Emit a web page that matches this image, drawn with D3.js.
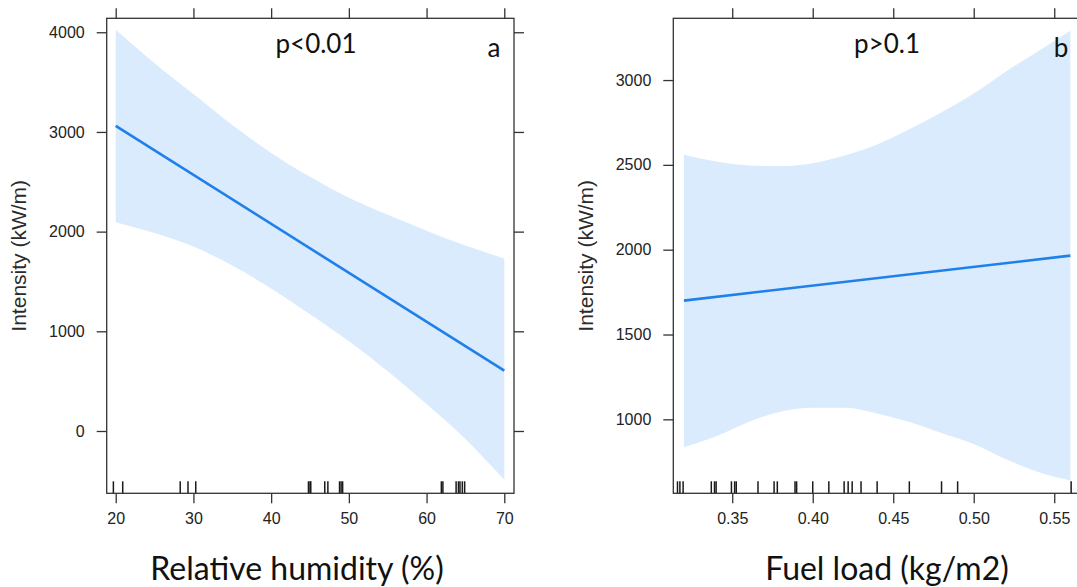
<!DOCTYPE html>
<html>
<head>
<meta charset="utf-8">
<script src="https://cdn.jsdelivr.net/npm/d3@7"></script>
<style>
	body { margin: 0; background: #fff; }
	svg { display: block; }
	.tick text { font-family: "Liberation Sans", Arial, sans-serif; font-size: 16px; fill: #222; }
	.tick line { stroke: #333; stroke-width: 1.3; }
</style>
</head>
<body>
<div id="chart"></div>
<script>

// panel a: relative humidity
var humX = [20, 25, 30, 35, 40, 45, 50, 55, 60, 65, 70];
var humUpper = [4025, 3690, 3380, 3070, 2790, 2550, 2340, 2170, 2010, 1860, 1730];
var humLower = [2095, 1985, 1850, 1660, 1430, 1170, 900, 600, 270, -80, -490];
var humFitX = [20, 70];
var humFit = [3060, 605];
var humRug = [19.7, 20.9, 28.3, 29.3, 30.3, 44.8, 45.0, 45.1, 46.9, 47.3, 48.8, 49.0, 49.2,
	61.9, 62.1, 63.8, 64.1, 64.3, 64.6, 64.9];
var humTicksX = [20, 30, 40, 50, 60, 70];
var humTicksY = [0, 1000, 2000, 3000, 4000];

// panel b: fuel load
var fuelX = [0.32, 0.34, 0.36, 0.38, 0.40, 0.42, 0.44, 0.46, 0.48, 0.50, 0.52, 0.54, 0.56];
var fuelUpper = [2560, 2520, 2497, 2493, 2510, 2555, 2620, 2710, 2810, 2920, 3050, 3170, 3290];
var fuelLower = [835, 900, 985, 1045, 1068, 1068, 1035, 985, 920, 855, 765, 690, 640];
var fuelFitX = [0.32, 0.56];
var fuelFit = [1700, 1965];
var fuelRug = [0.316, 0.3175, 0.3195, 0.337, 0.339, 0.340, 0.3495, 0.3515, 0.3525, 0.366, 0.376, 0.378,
	0.389, 0.390, 0.400, 0.410, 0.4195, 0.422, 0.4245, 0.430, 0.440, 0.460, 0.480, 0.490, 0.5605];
var fuelTicksX = [0.35, 0.40, 0.45, 0.50, 0.55];
var fuelTicksY = [1000, 1500, 2000, 2500, 3000];

var width = 1077,
	height = 587;

var svg = d3.select('#chart').append('svg')
	.attr('width', width)
	.attr('height', height)
	.style('background', '#fff');

function drawPanel(opt) {
	var x = d3.scaleLinear().domain(opt.xDomain).range([opt.left, opt.right]);
	var y = d3.scaleLinear().domain(opt.yDomain).range([opt.bottom, opt.top]);

	var g = svg.append('g');

	// confidence band
	var band = opt.xs.map(function (d, i) {
		return { x: d, lo: opt.lower[i], hi: opt.upper[i] };
	});
	g.append('path')
		.datum(band)
		.attr('fill', '#d9ebfd')
		.attr('d', d3.area()
			.curve(d3.curveMonotoneX)
			.x(function (d) { return x(d.x); })
			.y0(function (d) { return y(d.lo); })
			.y1(function (d) { return y(d.hi); }));

	// fitted line
	var fit = opt.fitX.map(function (d, i) { return { x: d, y: opt.fit[i] }; });
	g.append('path')
		.datum(fit)
		.attr('fill', 'none')
		.attr('stroke', '#1f80ea')
		.attr('stroke-width', 2.6)
		.attr('d', d3.line()
			.x(function (d) { return x(d.x); })
			.y(function (d) { return y(d.y); }));

	// rug
	g.selectAll('line.rug').data(opt.rug)
		.enter().append('line')
		.attr('class', 'rug')
		.attr('x1', function (d) { return x(d); })
		.attr('x2', function (d) { return x(d); })
		.attr('y1', opt.bottom)
		.attr('y2', opt.bottom - 12)
		.attr('stroke', '#1a1a1a')
		.attr('stroke-width', 1.5);

	// axes, ticks on all four sides, labels left/bottom
	g.append('g')
		.attr('transform', 'translate(0,' + opt.bottom + ')')
		.call(d3.axisBottom(x).tickValues(opt.ticksX).tickSize(10).tickPadding(9)
			.tickFormat(opt.xFormat))
		.call(function (a) { a.select('.domain').remove(); });
	g.append('g')
		.attr('transform', 'translate(0,' + opt.top + ')')
		.call(d3.axisTop(x).tickValues(opt.ticksX).tickSize(10).tickFormat(''))
		.call(function (a) { a.select('.domain').remove(); });
	g.append('g')
		.attr('transform', 'translate(' + opt.left + ',0)')
		.call(d3.axisLeft(y).tickValues(opt.ticksY).tickSize(10).tickPadding(12)
			.tickFormat(d3.format('d')))
		.call(function (a) { a.select('.domain').remove(); });
	g.append('g')
		.attr('transform', 'translate(' + opt.right + ',0)')
		.call(d3.axisRight(y).tickValues(opt.ticksY).tickSize(10).tickFormat(''))
		.call(function (a) { a.select('.domain').remove(); });

	// frame
	g.append('rect')
		.attr('x', opt.left)
		.attr('y', opt.top)
		.attr('width', opt.right - opt.left)
		.attr('height', opt.bottom - opt.top)
		.attr('fill', 'none')
		.attr('stroke', '#333')
		.attr('stroke-width', 1.3);

	// y title
	g.append('text')
		.attr('transform', 'translate(' + opt.yTitleX + ',' + ((opt.top + opt.bottom) / 2) + ') rotate(-90)')
		.attr('text-anchor', 'middle')
		.style('font-family', '"Liberation Sans", Arial, sans-serif')
		.style('font-size', '21px')
		.style('fill', '#2b2b2b')
		.text('Intensity (kW/m)');

	// x title
	g.append('text')
		.attr('x', opt.xTitleX)
		.attr('y', 580)
		.attr('text-anchor', 'middle')
		.style('font-family', 'Lato, "Open Sans", sans-serif')
		.style('font-size', '32px')
		.style('fill', '#111')
		.text(opt.xTitle);

	// p value and panel letter
	g.append('text')
		.attr('x', opt.pX)
		.attr('y', 53)
		.attr('text-anchor', 'middle')
		.style('font-family', 'Lato, "Open Sans", sans-serif')
		.style('font-size', '26px')
		.style('fill', '#111')
		.text(opt.pText);
	g.append('text')
		.attr('x', opt.letterX)
		.attr('y', 57)
		.attr('text-anchor', 'middle')
		.style('font-family', 'Lato, "Open Sans", sans-serif')
		.style('font-size', '26px')
		.style('fill', '#111')
		.text(opt.letter);
}

drawPanel({
	left: 106.7, right: 514, top: 18.3, bottom: 493.3,
	xDomain: [18.84, 71.25], yDomain: [-625, 4140],
	xs: humX, upper: humUpper, lower: humLower,
	fitX: humFitX, fit: humFit, rug: humRug,
	ticksX: humTicksX, ticksY: humTicksY, xFormat: d3.format('d'),
	yTitleX: 26, xTitleX: 297, xTitle: 'Relative humidity (%)',
	pX: 316, pText: 'p<0.01', letterX: 494, letter: 'a'
});

drawPanel({
	left: 673.3, right: 1080, top: 18.3, bottom: 493.3,
	xDomain: [0.3134, 0.566], yDomain: [564, 3364],
	xs: fuelX, upper: fuelUpper, lower: fuelLower,
	fitX: fuelFitX, fit: fuelFit, rug: fuelRug,
	ticksX: fuelTicksX, ticksY: fuelTicksY, xFormat: d3.format('.2f'),
	yTitleX: 593, xTitleX: 887, xTitle: 'Fuel load (kg/m2)',
	pX: 887, pText: 'p>0.1', letterX: 1061, letter: 'b'
});

</script>
</body>
</html>
